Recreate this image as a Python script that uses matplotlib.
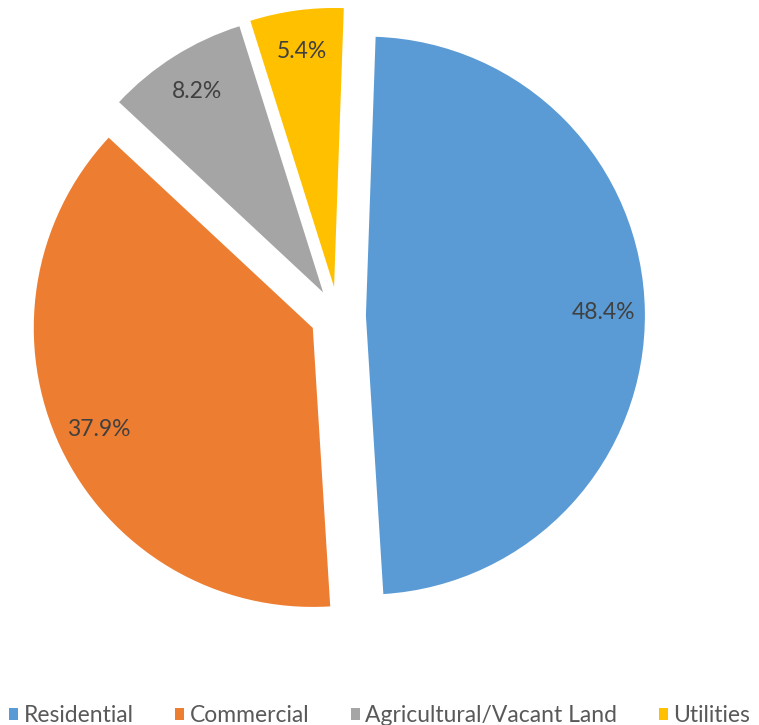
import matplotlib.pyplot as plt
from matplotlib.patches import Patch

# data
labels = ["Residential", "Commercial", "Agricultural/Vacant Land", "Utilities"]
shares = [48.4, 37.9, 8.2, 5.4]
colors = ["#5B9BD5", "#ED7D31", "#A5A5A5", "#FFC000"]
explode = [0.10, 0.10, 0.10, 0.105]

plt.rcParams['font.family'] = ['Lato', 'DejaVu Sans']

R = 279  # pie radius in pixel units
fig = plt.figure(figsize=(7.59, 7.25), dpi=100)
ax = fig.add_axes([0, 0, 1, 1])

wedges, texts, autotexts = ax.pie(
    shares, colors=colors, explode=[e * R for e in explode], startangle=88,
    counterclock=False, radius=R, center=(338, 409), autopct='%1.1f%%',
    pctdistance=0.85, textprops={'fontsize': 16.5, 'color': '#404040'},
    wedgeprops={'linewidth': 0},
)

ax.set_xlim(0, 759)
ax.set_ylim(0, 725)
ax.set_aspect('equal')
ax.axis('off')

handles = [Patch(facecolor=c, edgecolor='none') for c in colors]
ax.legend(handles, labels, loc='lower center', bbox_to_anchor=(0.5, -0.03), ncol=4,
          frameon=False, fontsize=16.5, handlelength=0.4, handleheight=0.4,
          handletextpad=0.25, columnspacing=1.8, labelcolor='#595959')

fig.savefig("out.png", dpi=100)
